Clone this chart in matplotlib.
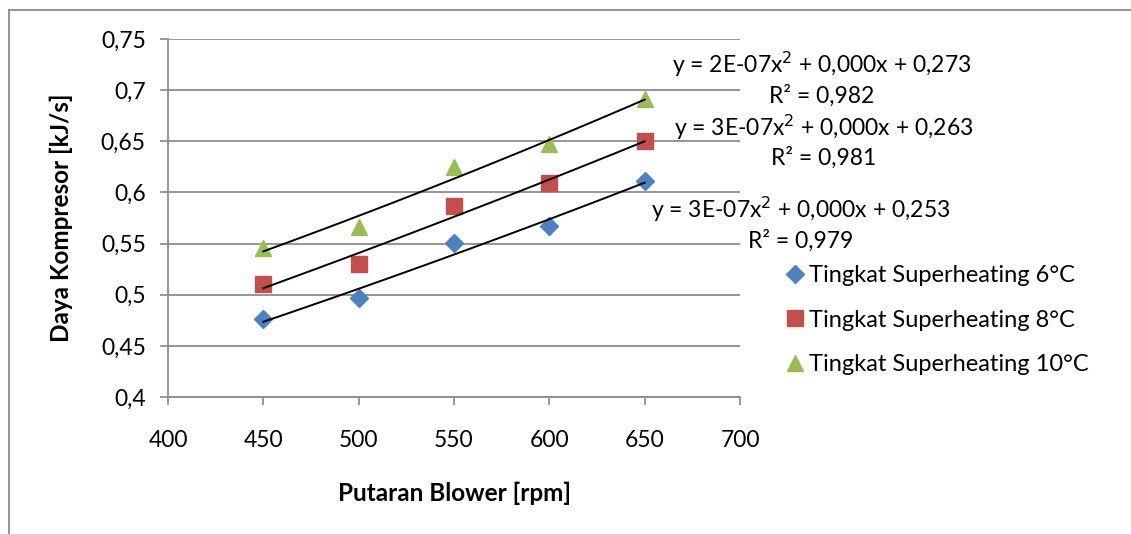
import numpy as np
import matplotlib
matplotlib.use("Agg")
import matplotlib.pyplot as plt
from matplotlib.lines import Line2D

plt.rcParams['font.family'] = ['Lato', 'DejaVu Sans']

# data
rpm = [450, 500, 550, 600, 650]
daya_6 = [0.476, 0.497, 0.551, 0.567, 0.611]
daya_8 = [0.510, 0.530, 0.587, 0.609, 0.650]
daya_10 = [0.546, 0.566, 0.625, 0.647, 0.691]
labels = ["Tingkat Superheating 6°C", "Tingkat Superheating 8°C", "Tingkat Superheating 10°C"]
eq_text = ["y = 3E-07x$^2$ + 0,000x + 0,253\nR² = 0,979",
           "y = 3E-07x$^2$ + 0,000x + 0,263\nR² = 0,981",
           "y = 2E-07x$^2$ + 0,000x + 0,273\nR² = 0,982"]
x_ticks = [400, 450, 500, 550, 600, 650, 700]
y_ticks = [0.4, 0.45, 0.5, 0.55, 0.6, 0.65, 0.7, 0.75]
y_ticklabels = ["0,4", "0,45", "0,5", "0,55", "0,6", "0,65", "0,7", "0,75"]

fig = plt.figure(figsize=(11.31, 5.34), dpi=100)
ax = fig.add_axes([168/1131, 1 - 397/534, (740-168)/1131, (397-39)/534])

series = [daya_6, daya_8, daya_10]
colors = ["#4F81BD", "#C0504D", "#9BBB59"]
markers = ["D", "s", "^"]
sizes = [9, 11, 12]
eq_pos = [(732, 0.5700), (744, 0.6505), (743, 0.7115)]

xs = np.linspace(rpm[0], rpm[-1], 100)
for vals, c, m, s, lab in zip(series, colors, markers, sizes, labels):
    ax.plot(rpm, vals, linestyle="none", marker=m, color=c, markersize=s,
            label=lab, zorder=3)
    coef = np.polyfit(rpm, vals, 2)
    ax.plot(xs, np.polyval(coef, xs), color="black", lw=1.4, zorder=4)

for (ex, ey), t in zip(eq_pos, eq_text):
    ax.text(ex, ey, t, ha="center", va="center", fontsize=16.5,
            linespacing=1.3, clip_on=False, zorder=5)

ax.set_xlim(400, 700)
ax.set_ylim(0.4, 0.75)
ax.set_xticks(x_ticks)
ax.set_yticks(y_ticks)
ax.set_yticklabels(y_ticklabels)
ax.tick_params(labelsize=16.5, color="#888888", length=6, width=1.2)
ax.tick_params(axis="x", pad=18)
ax.tick_params(axis="y", pad=10)
ax.grid(axis="y", color="#8c8c8c", lw=1.3)
ax.set_axisbelow(True)
for side in ["top", "right"]:
    ax.spines[side].set_visible(False)
for side in ["left", "bottom"]:
    ax.spines[side].set_color("#8c8c8c")
    ax.spines[side].set_linewidth(1.3)

ax.set_xlabel("Putaran Blower [rpm]", fontsize=17.5, fontweight="bold", labelpad=22)
ax.set_ylabel("Daya Kompresor [kJ/s]", fontsize=17.5, fontweight="bold", labelpad=20)

handles = [Line2D([], [], linestyle="none", marker=m, color=c, markersize=s)
           for c, m, s in zip(colors, markers, sizes)]
fig.legend(handles, labels, loc="upper left", bbox_to_anchor=(782/1131, 1 - 265/534),
           frameon=False, fontsize=17, handletextpad=0.05, handlelength=1.1,
           labelspacing=1.0, borderaxespad=0, borderpad=0)

# outer chart border
fig.add_artist(Line2D([9/1131, 9/1131], [0, 1 - 10/534], transform=fig.transFigure,
                      color="#8c8c8c", lw=1.3))
fig.add_artist(Line2D([9/1131, 1], [1 - 10/534, 1 - 10/534], transform=fig.transFigure,
                      color="#8c8c8c", lw=1.3))

fig.savefig("out.png", dpi=100)
